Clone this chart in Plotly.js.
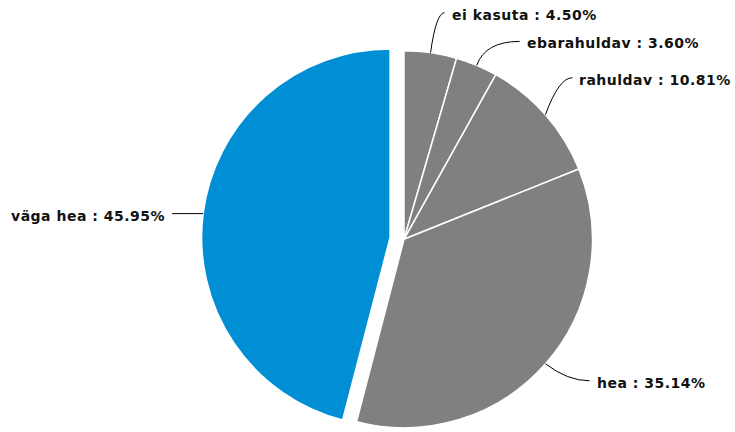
<!DOCTYPE html>
<html><head><meta charset="utf-8">
<script src="https://cdn.plot.ly/plotly-3.0.1.min.js"></script>
<style>html,body{margin:0;padding:0;overflow:hidden;background:#fff}
.annotation-text{letter-spacing:0.5px}</style>
</head><body><div id="chart" style="width:735px;height:450px"></div>
<script>
// ---- data ----
const categories = ["ei kasuta", "ebarahuldav", "rahuldav", "hea", "väga hea"];
const percentValues = [4.50, 3.60, 10.81, 35.14, 45.95];
const percentLabels = ["4.50%", "3.60%", "10.81%", "35.14%", "45.95%"];

// ---- style / layout ----
const sliceColors = ["#808080", "#808080", "#808080", "#808080", "#008fd5"];
const slicePull = [0, 0, 0, 0, 0.0743];
const labelDx = [14, 43, 27, 44, -31];
const labelDy = [-40, -24, -37, 17, 0];
const labelCurve = [0.4, 0.2, 0.5, 0.5, 0.5];

const W = 735, H = 450;
const domX = [0.2741, 0.8252], domY = [0.0182, 0.9182];
const boxW = W * (domX[1] - domX[0]), boxH = H * (domY[1] - domY[0]);
const maxPull = Math.max(...slicePull);
const r = Math.min(boxW, boxH) / (2 + 2 * maxPull);
const cx = W * (domX[0] + domX[1]) / 2, cy = H * (1 - domY[0]) - boxH / 2;
const total = percentValues.reduce((a, b) => a + b, 0);
const px = x => x / W, py = y => 1 - y / H;

const shapes = [], annotations = [];
let cum = 0;
categories.forEach((cat, i) => {
  const a0 = cum / total * 2 * Math.PI;
  cum += percentValues[i];
  const a1 = cum / total * 2 * Math.PI;
  const am = (a0 + a1) / 2;
  const ux = Math.sin(am), uy = -Math.cos(am);
  const ox = cx + slicePull[i] * r * ux, oy = cy + slicePull[i] * r * uy;
  const sx = ox + r * ux, sy = oy + r * uy;
  const ex = sx + labelDx[i], ey = sy + labelDy[i];
  const qx = sx + labelCurve[i] * (ex - sx), qy = ey;
  shapes.push({
    type: "path", xref: "paper", yref: "paper",
    path: `M ${px(sx)},${py(sy)} Q ${px(qx)},${py(qy)} ${px(ex)},${py(ey)}`,
    line: {color: "#000000", width: 1}
  });
  const side = ux >= 0 ? 1 : -1;
  annotations.push({
    xref: "paper", yref: "paper", showarrow: false,
    x: px(ex + side * 5), y: py(ey + 2),
    xanchor: side > 0 ? "left" : "right", yanchor: "middle",
    text: "<b>" + cat + " : " + percentLabels[i] + "</b>",
    font: {family: "DejaVu Sans", size: 14, color: "#111111"}
  });
});

const trace = {
  type: "pie",
  labels: categories,
  values: percentValues,
  sort: false,
  direction: "clockwise",
  rotation: 0,
  pull: slicePull,
  textinfo: "none",
  hoverinfo: "none",
  marker: {colors: sliceColors, line: {color: "#ffffff", width: 1.5}},
  domain: {x: domX, y: domY},
  showlegend: false
};

Plotly.newPlot("chart", [trace], {
  width: W, height: H,
  margin: {l: 0, r: 0, t: 0, b: 0},
  paper_bgcolor: "#ffffff",
  showlegend: false,
  shapes: shapes,
  annotations: annotations
}, {displayModeBar: false, staticPlot: true});
</script></body></html>
